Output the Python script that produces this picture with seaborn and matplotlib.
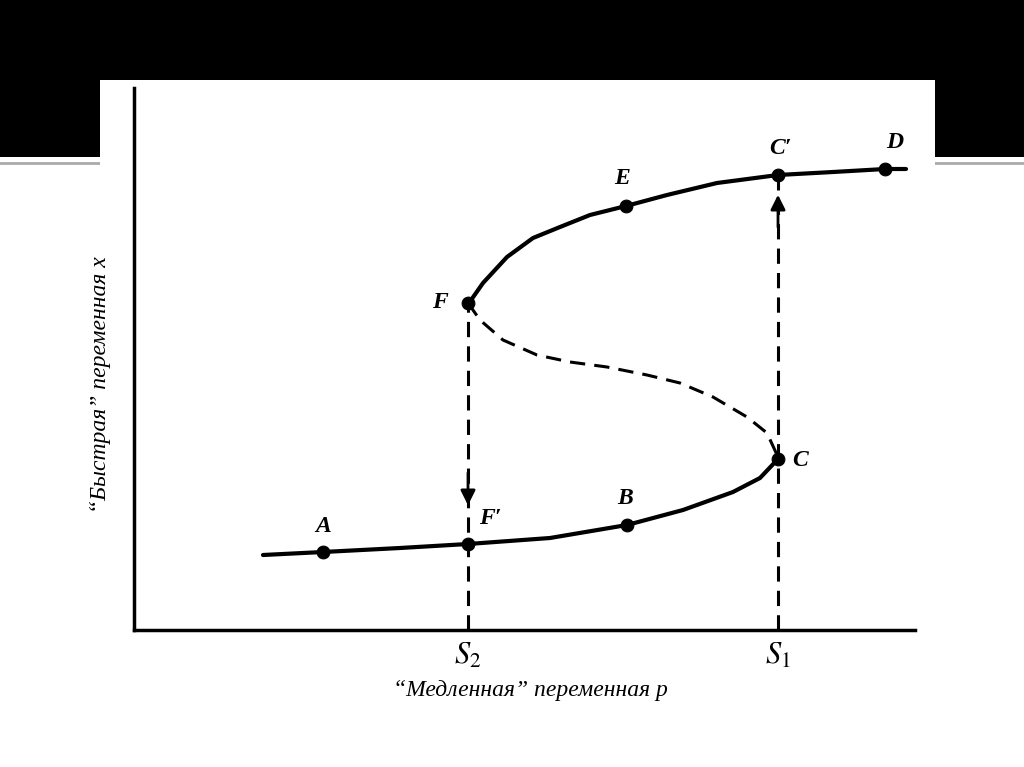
import matplotlib
matplotlib.use("Agg")
import matplotlib.pyplot as plt
import seaborn as sns
import pandas as pd
from matplotlib.patches import Rectangle
from matplotlib.lines import Line2D

sns.set_style("white")
plt.rcParams["font.family"] = ["Liberation Serif", "DejaVu Serif"]
plt.rcParams["mathtext.fontset"] = "stix"
plt.rcParams["text.color"] = "black"
plt.rcParams["axes.labelcolor"] = "black"
plt.rcParams["xtick.color"] = "black"

# ---- curve (p = slow variable, x = fast variable) ----
lower_p = [1.29, 1.89, 2.66, 3.34, 4.16, 4.93, 5.49, 5.99, 6.26, 6.44]
lower_x = [0.75, 0.78, 0.82, 0.86, 0.92, 1.05, 1.20, 1.38, 1.52, 1.71]

upper_p = [3.35, 3.49, 3.73, 3.99, 4.26, 4.56, 4.92, 5.33, 5.83, 6.44, 6.99, 7.51, 7.72]
upper_x = [3.27, 3.47, 3.73, 3.92, 4.03, 4.15, 4.24, 4.35, 4.47, 4.55, 4.58, 4.61, 4.61]

middle_p = [3.34, 3.46, 3.69, 4.03, 4.36, 4.73, 5.13, 5.46, 5.79, 6.13, 6.33, 6.44]
middle_x = [3.27, 3.10, 2.90, 2.75, 2.68, 2.63, 2.55, 2.47, 2.33, 2.13, 1.97, 1.73]

point_names = ["A", "F'", "B", "C", "F", "E", "C'", "D"]
point_p = [1.89, 3.34, 4.93, 6.44, 3.34, 4.92, 6.44, 7.51]
point_x = [0.78, 0.86, 1.05, 1.71, 3.27, 4.24, 4.55, 4.61]

s_values = [3.34, 6.44]
s_labels = ["$S_2$", "$S_1$"]

# ---- figure with the slide background ----
W, H = 1024, 767
fig = plt.figure(figsize=(W / 100, H / 100), dpi=100)
fig.patch.set_facecolor("white")
fig.patches.append(Rectangle((0, 1 - 157 / H), 1, 157 / H, transform=fig.transFigure,
                             facecolor="black", edgecolor="none", zorder=0))
fig.lines.append(Line2D([0, 1], [1 - 163 / H, 1 - 163 / H], transform=fig.transFigure,
                        color="#aaaaaa", lw=2, zorder=0.5))
fig.patches.append(Rectangle((100 / W, 0), 835 / W, 1 - 80 / H, transform=fig.transFigure,
                             facecolor="white", edgecolor="none", zorder=1))

ax = fig.add_axes([134 / W, (H - 630) / H, 781 / W, 542 / H])
ax.set_zorder(2)
ax.set_facecolor("none")

lw = 3
sns.lineplot(x=lower_p, y=lower_x, sort=False, estimator=None, color="black", lw=lw, ax=ax)
sns.lineplot(x=upper_p, y=upper_x, sort=False, estimator=None, color="black", lw=lw, ax=ax)
sns.lineplot(x=middle_p, y=middle_x, sort=False, estimator=None, color="black", lw=2.2,
             linestyle=(0, (5, 3)), ax=ax)

pts = pd.DataFrame({"p": point_p, "x": point_x, "name": point_names})
sns.scatterplot(data=pts, x="p", y="x", color="black", s=85, edgecolor="black", zorder=5, ax=ax)

# vertical jumps
ax.plot([s_values[0], s_values[0]], [0, point_x[4]], color="black", lw=2.2, linestyle=(0, (5, 3)))
ax.plot([s_values[1], s_values[1]], [0, point_x[6]], color="black", lw=2.2, linestyle=(0, (5, 3)))
ax.annotate("", xy=(s_values[0], 1.22), xytext=(s_values[0], 1.6),
            arrowprops=dict(arrowstyle="-|>", color="black", lw=2, mutation_scale=22))
ax.annotate("", xy=(s_values[1], 4.38), xytext=(s_values[1], 4.0),
            arrowprops=dict(arrowstyle="-|>", color="black", lw=2, mutation_scale=22))

# point labels
offsets = {"A": (0, 0.26), "F'": (0.22, 0.25), "B": (-0.02, 0.26), "C": (0.22, -0.02),
           "F": (-0.28, 0.0), "E": (-0.04, 0.27), "C'": (0.02, 0.27), "D": (0.1, 0.27)}
for n, p, x in zip(point_names, point_p, point_x):
    dx, dy = offsets[n]
    ax.text(p + dx, x + dy, n.replace("'", "\u2032"), ha="center", va="center",
            fontsize=17, fontstyle="italic", fontweight="bold", color="black")

ax.set_xlim(0, 7.81)
ax.set_ylim(0, 5.42)
for side in ["top", "right"]:
    ax.spines[side].set_visible(False)
for side in ["left", "bottom"]:
    ax.spines[side].set_linewidth(2.5)
    ax.spines[side].set_color("black")

ax.set_xticks(s_values)
ax.set_xticklabels(s_labels, fontsize=22)
ax.set_yticks([])
ax.tick_params(axis="x", direction="in", length=7, width=2, pad=8, bottom=True, color="black")

ax.set_xlabel("\u201cМедленная\u201d переменная p", fontsize=17, fontstyle="italic")
ax.xaxis.label.set_va("center")
ax.xaxis.set_label_coords(0.507, -0.111)
ax.set_ylabel("\u201cБыстрая\u201d переменная x", fontsize=17, fontstyle="italic")
ax.yaxis.label.set_va("center")
ax.yaxis.set_label_coords(-0.0435, 0.452)

fig.savefig("out.png", dpi=100)
